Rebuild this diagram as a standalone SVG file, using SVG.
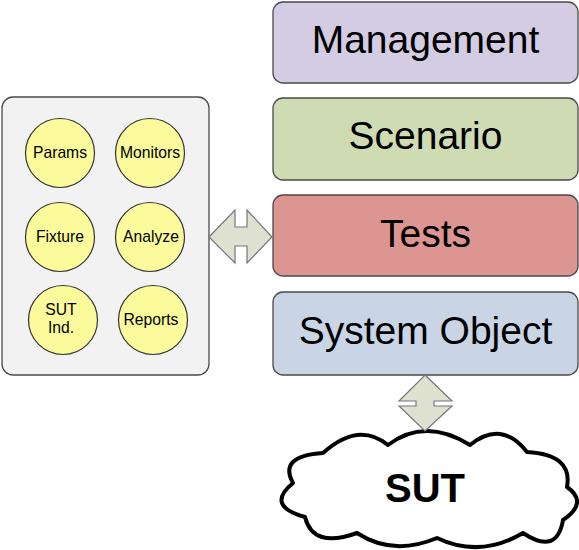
<svg xmlns="http://www.w3.org/2000/svg" width="579" height="550" viewBox="0 0 579 550">
<style>
.box{stroke:#4a4a4a;stroke-width:1.3}
.bt{font-family:"Liberation Sans",Arial,sans-serif;font-size:39px;fill:#000;text-anchor:middle}
.c{fill:#fbfb9c;stroke:#333;stroke-width:1.2}
.ct{font-family:"Liberation Sans",Arial,sans-serif;font-size:15.7px;fill:#000;text-anchor:middle}
.arr{fill:#dfe1d0;stroke:#777;stroke-width:1.2}
</style>
<rect width="579" height="550" fill="#fff"/>
<g id="panel">
<rect x="2" y="97" width="207" height="278" rx="11" fill="#f2f2f2" stroke="#4a4a4a" stroke-width="1.3"/>
</g>
<g id="params"><circle class="c" cx="60" cy="153" r="34.5"/><text class="ct" x="60" y="158">Params</text></g>
<g id="monitors"><circle class="c" cx="150" cy="153" r="34.5"/><text class="ct" x="150" y="158">Monitors</text></g>
<g id="fixture"><circle class="c" cx="60" cy="237" r="34.5"/><text class="ct" x="60" y="242">Fixture</text></g>
<g id="analyze"><circle class="c" cx="150" cy="237" r="34.5"/><text class="ct" x="151" y="242">Analyze</text></g>
<g id="sutind"><circle class="c" cx="63" cy="320" r="34.5"/><text class="ct" x="61" y="315">SUT</text><text class="ct" x="61" y="333">Ind.</text></g>
<g id="reports"><circle class="c" cx="153" cy="320" r="34.5"/><text class="ct" x="151" y="325">Reports</text></g>
<g id="management"><rect class="box" x="273" y="2" width="305" height="81" rx="10" fill="#d4cce2"/><text class="bt" x="425.5" y="53">Management</text></g>
<g id="scenario"><rect class="box" x="273" y="98" width="305" height="82" rx="10" fill="#cfdbb2"/><text class="bt" x="425.5" y="149">Scenario</text></g>
<g id="tests"><rect class="box" x="273" y="195" width="305" height="81" rx="10" fill="#dd9591"/><text class="bt" x="425.5" y="247">Tests</text></g>
<g id="systemobject"><rect class="box" x="273" y="292" width="305" height="83" rx="10" fill="#c9d5e5"/><text class="bt" x="425.5" y="344">System Object</text></g>
<g id="sut">
<path d="M323,453 Q358.5,421 388,445 Q425,417 470,445 Q501.5,419.5 527,452 Q573,454.5 567,487 Q589,502.5 563,520 Q557,555.5 523,533 Q480,558.5 437,538 Q393,556.5 357,533 Q313,549 305,517 Q265,506 293,483 Q278,456 323,453 Z" fill="#fff" stroke="#000" stroke-width="4" stroke-linejoin="round"/>
<text x="425" y="502" font-family="Liberation Sans,Arial,sans-serif" font-size="40" font-weight="bold" text-anchor="middle">SUT</text>
</g>
<g id="connectors">
<path class="arr" d="M209,237 L235,210 L235,227 L247,227 L247,210 L272,237 L247,263 L247,246 L235,246 L235,263 Z"/>
<path class="arr" d="M425,375 L452,401 L434,401 L434,406 L452,406 L425,431 L399,406 L416,406 L416,401 L399,401 Z"/>
</g>
</svg>
